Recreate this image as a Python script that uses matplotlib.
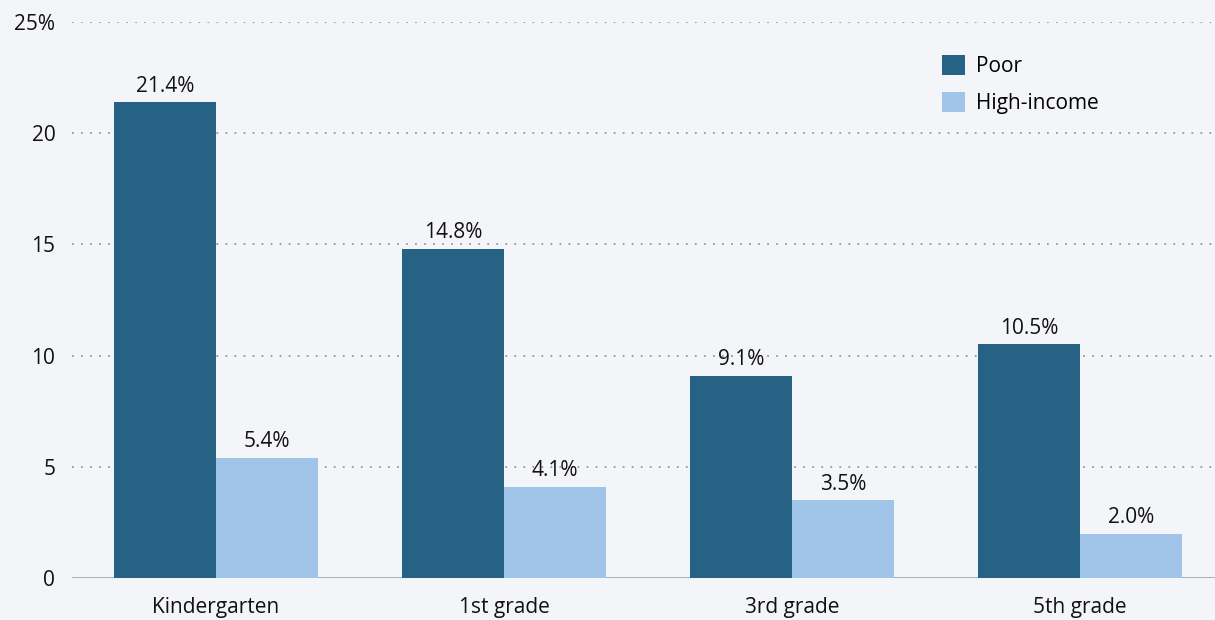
import numpy as np
import matplotlib.pyplot as plt
from matplotlib.patches import Patch

grades = ['Kindergarten', '1st grade', '3rd grade', '5th grade']
poor = [21.4, 14.8, 9.1, 10.5]
high_income = [5.4, 4.1, 3.5, 2.0]
y_ticks = [0, 5, 10, 15, 20, 25]
y_labels = ['0', '5', '10', '15', '20', '25%']

dark = '#266283'
light = '#a0c5e8'
bg = '#f4f5f8'

plt.rcParams['font.family'] = ['Open Sans', 'DejaVu Sans']

fig = plt.figure(figsize=(12.15, 6.2), dpi=100, facecolor=bg)
ax = fig.add_axes([72/1215, 42/620, 1143/1215, 556/620], facecolor=bg)

x = np.arange(len(grades))
w = 0.354
b1 = ax.bar(x - w/2, poor, w, color=dark, label='Poor', zorder=3)
b2 = ax.bar(x + w/2, high_income, w, color=light, label='High-income', zorder=3)

for bars, vals in ((b1, poor), (b2, high_income)):
    for r, v in zip(bars, vals):
        ax.annotate(f'{v:.1f}%', (r.get_x() + r.get_width()/2, v),
                    xytext=(0, 4), textcoords='offset points',
                    ha='center', va='bottom', fontsize=15, color='#111111')

ax.set_xlim(-0.5, 3.469)
ax.set_ylim(0, 25)
ax.set_yticks(y_ticks)
ax.set_yticklabels(y_labels)
ax.set_xticks(x)
ax.set_xticklabels(grades)
ax.tick_params(axis='both', length=0, labelsize=15, colors='#111111')
ax.tick_params(axis='y', pad=12)
ax.tick_params(axis='x', pad=14)

ax.yaxis.grid(True, linestyle=(0, (1, 4)), color='#999999', linewidth=1.3, zorder=0)
ax.axhline(0, color='#aaaaaa', linewidth=2, zorder=2)
for s in ax.spines.values():
    s.set_visible(False)

handles = [Patch(facecolor=dark, label='Poor'),
           Patch(facecolor=light, label='High-income')]
ax.legend(handles=handles, loc='upper left', bbox_to_anchor=(0.745, 0.975),
          frameon=False, fontsize=15, handlelength=1.1, handleheight=1.1,
          handletextpad=0.5, labelspacing=0.75)

fig.savefig('out.png', dpi=100, facecolor=bg)
